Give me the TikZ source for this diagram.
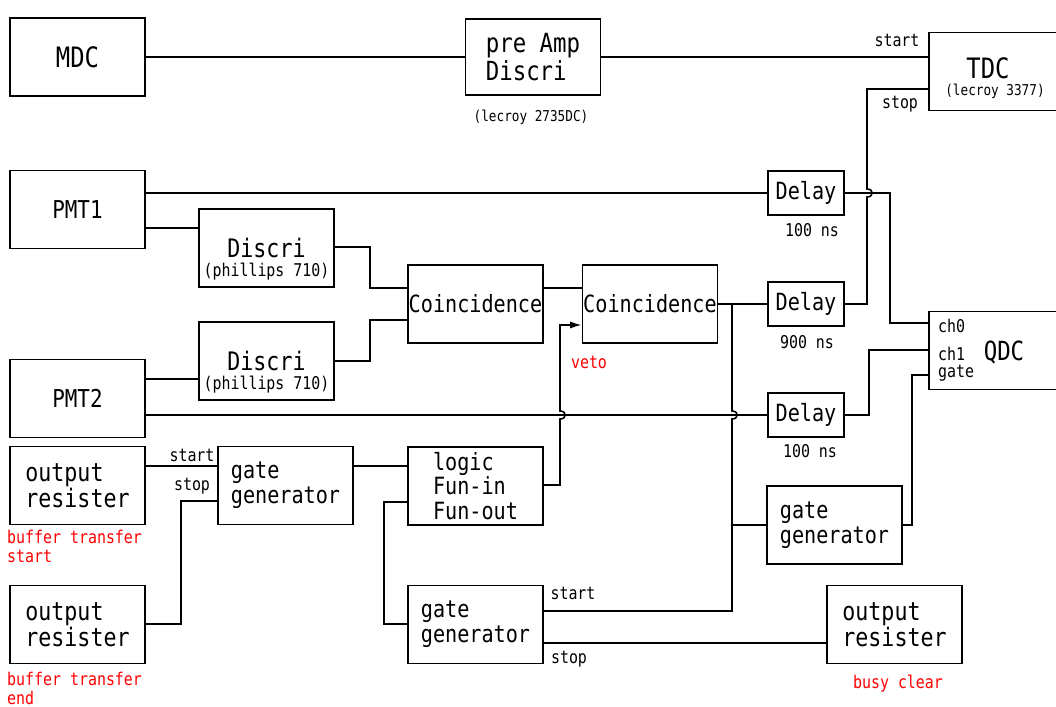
\documentclass[tikz,border=0pt]{standalone}
\usepackage{fontspec}
\newfontfamily\gothic[FakeStretch=0.85]{DejaVu Sans Mono}
\usetikzlibrary{arrows.meta, calc}
\tikzset{
  unit/.style = {rectangle, draw, line width=1pt, minimum width=2.7cm, minimum height=1.56cm, inner sep=0pt, align=left, font=\gothic\fontsize{13.5}{14}\selectfont},
  unitlarge/.style = {unit, font=\gothic\fontsize{14.5}{15}\selectfont},
  unitbig/.style = {unit, font=\gothic\fontsize{16}{16}\selectfont},
  delaybox/.style = {unit, minimum width=1.52cm, minimum height=0.88cm},
  tag/.style = {inner sep=1pt, font=\gothic\fontsize{10}{11}\selectfont},
  model/.style = {inner sep=0pt, font=\gothic\fontsize{8.5}{9}\selectfont},
  note/.style = {tag, text=red, align=left},
  wire/.style = {line width=0.9pt},
  arrow/.style = {wire, -{Latex[length=6.5pt, width=4pt]}}
}

\begin{document}
\begin{tikzpicture}[x=0.02cm, y=-0.02cm]
    \useasboundingbox (0,0) rectangle (1056,707);

    % MDC branch
    \node[unitbig] (MDC) at (77.5,57) {MDC};
    \node[unitlarge, minimum height=1.52cm, font=\gothic\fontsize{15}{16}\selectfont] (preamp) at (533,57) {pre Amp\\Discri};
    \node[model] (preampmodel) at (531,117) {(lecroy 2735DC)};
    \node[unitbig] (TDC) at (996.5,71.5) {};
    \node[font=\gothic\fontsize{16}{16}\selectfont, inner sep=0pt] (TDCname) at (988,68) {TDC};
    \node[model] (TDCmodel) at (995,91) {(lecroy 3377)};

    % PMTs and trigger logic
    \node[unitlarge, font=\gothic\fontsize{14}{15}\selectfont] (PMT1) at (77.5,209.5) {PMT1};
    \node[unitlarge, font=\gothic\fontsize{14}{15}\selectfont] (PMT2) at (77.5,398.5) {PMT2};
    \node[unitlarge] (Discri1) at (266.5,248) {Discri};
    \node[tag] (Discri1model) at (266.5,272) {(phillips 710)};
    \node[unitlarge] (Discri2) at (266.5,361) {Discri};
    \node[tag] (Discri2model) at (266.5,385) {(phillips 710)};
    \node[unit] (Coinc1) at (475.5,304) {Coincidence};
    \node[unit] (Coinc2) at (650,304) {Coincidence};

    % delays and QDC
    \node[delaybox] (Delay1) at (806,193) {Delay};
    \node[tag] (Delay1val) at (812,230) {100 ns};
    \node[delaybox] (Delay2) at (806,304) {Delay};
    \node[tag] (Delay2val) at (807,342) {900 ns};
    \node[delaybox] (Delay3) at (806,415) {Delay};
    \node[tag] (Delay3val) at (810,451) {100 ns};
    \node[unit] (QDC) at (996.5,350.5) {};
    \node[font=\gothic\fontsize{15}{15}\selectfont, inner sep=0pt] (QDCname) at (1004,352) {QDC};
    \node[tag, anchor=base west] (ch0) at (936,332) {ch0};
    \node[tag, anchor=base west] (ch1) at (936,360) {ch1};
    \node[tag, anchor=base west] (chgate) at (936,377) {gate};

    % busy handling
    \node[unitlarge] (OR1) at (77.5,485.5) {output\\resister};
    \node[note, anchor=north west] (OR1note) at (5,528) {buffer transfer\\start};
    \node[unitlarge] (OR2) at (77.5,624.5) {output\\resister};
    \node[note, anchor=north west] (OR2note) at (5,670) {buffer transfer\\end};
    \node[unit] (GG1) at (285.5,485.5) {gate\\generator};
    \node[unit] (Logic) at (475.5,486) {logic\\Fun-in\\Fun-out};
    \node[unit] (GG2) at (475.5,624.5) {gate\\generator};
    \node[unit] (GG3) at (834.5,525) {gate\\generator};
    \node[unitlarge] (OR3) at (894.5,624.5) {output\\resister};
    \node[note] (OR3note) at (898,684) {busy clear};
    \node[note] (veto) at (589,362) {veto};

    % port labels
    \node[tag] (TDCstart) at (897,40) {start};
    \node[tag] (TDCstop) at (900,104) {stop};
    \node[tag] (GG1start) at (192,455) {start};
    \node[tag] (GG1stop) at (192,486) {stop};
    \node[tag] (GG2start) at (573,593) {start};
    \node[tag] (GG2stop) at (569,659) {stop};

    % MDC wires
    \draw[wire] (MDC) -- (preamp);
    \draw[wire] (preamp) -- (TDC.west |- preamp);
    \draw[wire] (Delay2.east) -- (867,304) -- (867,197) .. controls (874,197) and (874,189) .. (867,189) -- (867,89) -- (TDC.west |- 0,89);

    % PMT wires
    \draw[wire] (PMT1.east |- Delay1) -- (Delay1.west);
    \draw[wire] (PMT1.east |- 0,228) -- (Discri1.west |- 0,228);
    \draw[wire] (PMT2.east |- 0,379) -- (Discri2.west |- 0,379);
    \draw[wire] (PMT2.east |- Delay3) -- (Delay3.west);
    \draw[wire] (Discri1.east |- 0,247) -- (370,247) |- (Coinc1.west |- 0,288);
    \draw[wire] (Discri2.east |- 0,361) -- (370,361) |- (Coinc1.west |- 0,320);
    \draw[wire] (Coinc1.east |- 0,288) -- (Coinc2.west |- 0,288);
    \draw[wire] (Coinc2.east) -- (Delay2.west);

    % QDC wires
    \draw[wire] (Delay1.east) -- (890,193) |- (QDC.west |- 0,323);
    \draw[wire] (Delay3.east) -- (869,415) |- (QDC.west |- 0,350);
    \draw[wire] (GG3.east) -- (912,525) |- (QDC.west |- 0,375);

    % gate bus and veto
    \coordinate (busTop) at (732,304);
    \draw[wire] (GG2.east |- 0,611) -- (732,611) -- (732,419) .. controls (739,419) and (739,411) .. (732,411) -- (busTop);
    \draw[wire] (732,525) -- (GG3.west);
    \draw[arrow] (Logic.east |- 0,485) -- (560,485) -- (560,419) .. controls (567,419) and (567,411) .. (560,411) -- (560,325) -- (Coinc2.west |- 0,325);

    % busy wires
    \draw[wire] (OR1.east |- 0,466) -- (GG1.west |- 0,466);
    \draw[wire] (OR2.east |- 0,624) -- (181,624) |- (GG1.west |- 0,501);
    \draw[wire] (GG1.east |- 0,466) -- (Logic.west |- 0,466);
    \draw[wire] (Logic.west |- 0,502) -- (384,502) |- (GG2.west |- 0,624);
    \draw[wire] (GG2.east |- 0,643) -- (OR3.west |- 0,643);

\end{tikzpicture}
\end{document}
